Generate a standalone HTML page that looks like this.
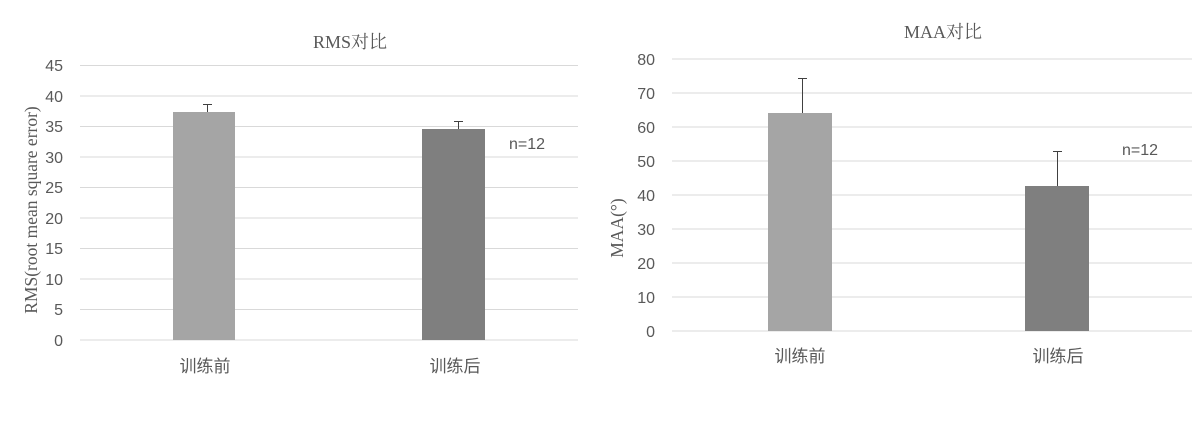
<!DOCTYPE html>
<html><head><meta charset="utf-8"><style>body{margin:0;background:#fff}</style></head><body>
<svg width="1200" height="420" xmlns="http://www.w3.org/2000/svg" font-family="Liberation Sans, Noto Sans CJK SC, sans-serif" fill="#595959">
<rect width="1200" height="420" fill="#fff"/>
<g stroke="#d9d9d9" stroke-width="1">
<line x1="80" x2="578" y1="65.5" y2="65.5"/><line x1="80" x2="578" y1="96" y2="96"/><line x1="80" x2="578" y1="126.5" y2="126.5"/><line x1="80" x2="578" y1="157" y2="157"/><line x1="80" x2="578" y1="187.5" y2="187.5"/><line x1="80" x2="578" y1="218" y2="218"/><line x1="80" x2="578" y1="248.5" y2="248.5"/><line x1="80" x2="578" y1="279" y2="279"/><line x1="80" x2="578" y1="309.5" y2="309.5"/><line x1="80" x2="578" y1="340" y2="340"/>
<line x1="672" x2="1192" y1="59" y2="59"/><line x1="672" x2="1192" y1="93" y2="93"/><line x1="672" x2="1192" y1="127" y2="127"/><line x1="672" x2="1192" y1="161" y2="161"/><line x1="672" x2="1192" y1="195" y2="195"/><line x1="672" x2="1192" y1="229" y2="229"/><line x1="672" x2="1192" y1="263" y2="263"/><line x1="672" x2="1192" y1="297" y2="297"/><line x1="672" x2="1192" y1="331" y2="331"/>
</g>
<rect x="173" y="112" width="62" height="228" fill="#a5a5a5"/>
<rect x="422" y="129" width="63" height="211" fill="#7f7f7f"/>
<rect x="768" y="113" width="64" height="218" fill="#a5a5a5"/>
<rect x="1025" y="186" width="64" height="145" fill="#7f7f7f"/>
<g stroke="#404040" stroke-width="1">
<line x1="207.5" x2="207.5" y1="104" y2="112"/><line x1="203" x2="212" y1="104.5" y2="104.5"/>
<line x1="458.5" x2="458.5" y1="121" y2="129"/><line x1="454" x2="463" y1="121.5" y2="121.5"/>
<line x1="802.5" x2="802.5" y1="78" y2="113"/><line x1="798" x2="807" y1="78.5" y2="78.5"/>
<line x1="1057.5" x2="1057.5" y1="151" y2="186"/><line x1="1053" x2="1062" y1="151.5" y2="151.5"/>
</g>
<g font-size="16" text-anchor="end">
<text x="63" y="71">45</text><text x="63" y="102">40</text><text x="63" y="132">35</text><text x="63" y="163">30</text><text x="63" y="193">25</text><text x="63" y="224">20</text><text x="63" y="254">15</text><text x="63" y="285">10</text><text x="63" y="315">5</text><text x="63" y="346">0</text>
<text x="655" y="65">80</text><text x="655" y="99">70</text><text x="655" y="133">60</text><text x="655" y="167">50</text><text x="655" y="201">40</text><text x="655" y="235">30</text><text x="655" y="269">20</text><text x="655" y="303">10</text><text x="655" y="337">0</text>
</g>
<g font-size="17" text-anchor="middle">
<text x="205" y="372">训练前</text><text x="455" y="372">训练后</text>
<text x="800" y="362">训练前</text><text x="1058" y="362">训练后</text>
</g>
<g font-family="Liberation Serif, Noto Serif CJK SC, serif" font-size="18" text-anchor="middle">
<text x="350" y="48">RMS对比</text>
<text x="943" y="38">MAA对比</text>
</g>
<g font-family="Liberation Serif, serif" font-size="17.5" text-anchor="middle">
<text transform="translate(37,210) rotate(-90)">RMS(root mean square error)</text>
<text transform="translate(623,228) rotate(-90)">MAA(°)</text>
</g>
<g font-size="16">
<text x="509" y="149">n=12</text>
<text x="1122" y="155">n=12</text>
</g>
</svg>
</body></html>
